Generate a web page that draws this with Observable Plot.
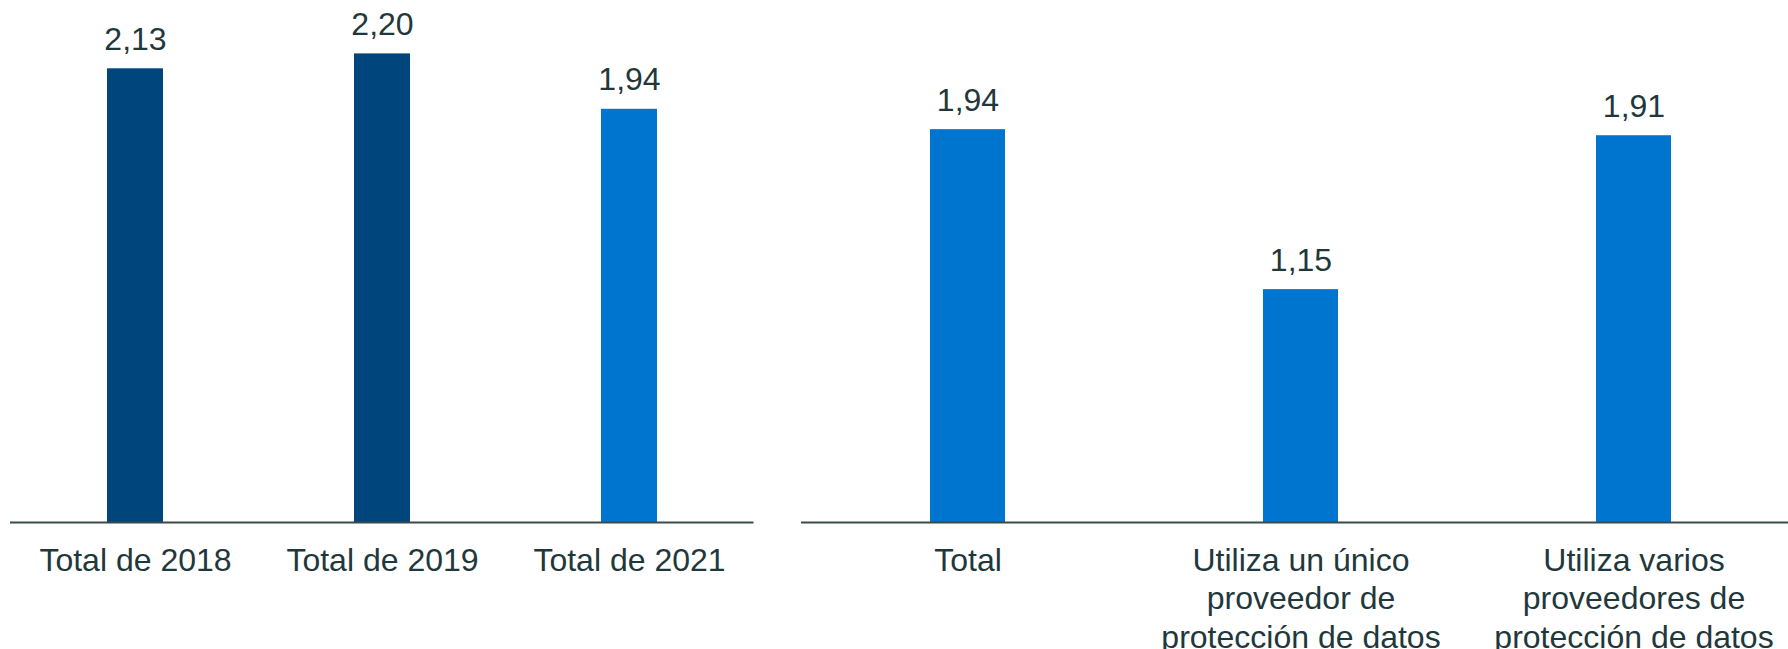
<!DOCTYPE html>
<html>
<head>
<meta charset="utf-8">
<script src="https://cdn.jsdelivr.net/npm/d3@7"></script>
<script src="https://cdn.jsdelivr.net/npm/@observablehq/plot@0.6"></script>
<style>
  html, body { margin: 0; padding: 0; background: #fff; overflow: hidden; }
  #wrap { width: 1788px; height: 649px; overflow: hidden; display: flex; flex-direction: row; align-items: flex-start; }
  #left, #right { flex: none; }
</style>
</head>
<body>
<div id="wrap"><div id="left"></div><div id="right"></div></div>
<script>
// Left panel data
const yearCategories = ["Total de 2018", "Total de 2019", "Total de 2021"];
const yearValues = [2.13, 2.20, 1.94];

// Right panel data
const providerCategories = ["Total", "Utiliza un único\nproveedor de\nprotección de datos", "Utiliza varios\nproveedores de\nprotección de datos"];
const providerValues = [1.94, 1.15, 1.91];

const NAVY = "#00457c";
const BLUE = "#0075cf";
const TEXT = "#1f383c";
const AXIS = "#3a4a4c";
const FONT = "Arial, 'Liberation Sans', sans-serif";

const fmt = v => d3.format(".2f")(v).replace(".", ",");

const leftData = yearCategories.map((c, i) => ({cat: c, value: yearValues[i]}));
const rightData = providerCategories.map((c, i) => ({cat: c, value: providerValues[i]}));

function panel(data, {width, marginLeft, marginRight, yMax, colorRange, labelDy}) {
  return Plot.plot({
    width,
    height: 649,
    marginTop: 0,
    marginBottom: 127,
    marginLeft,
    marginRight,
    style: {fontFamily: FONT, background: "transparent", overflow: "visible"},
    x: {domain: data.map(d => d.cat), paddingInner: 0.774, paddingOuter: 0.387, label: null},
    y: {domain: [0, yMax], axis: null},
    color: {domain: data.map(d => d.cat), range: colorRange},
    marks: [
      Plot.barY(data, {x: "cat", y: "value", fill: "cat"}),
      Plot.ruleY([0], {stroke: AXIS, strokeWidth: 2}),
      Plot.text(data, {x: "cat", y: "value", text: d => fmt(d.value), lineAnchor: "bottom", dy: labelDy,
        fontSize: 32, fill: TEXT}),
      Plot.axisX({tickSize: 0, tickPadding: 21, fontSize: 32, color: TEXT, lineHeight: 1.2, label: null, textOverflow: null})
    ]
  });
}

document.getElementById("left").appendChild(panel(leftData, {
  width: 801, marginLeft: 10, marginRight: 47.5, yMax: 522 / 213,
  colorRange: [NAVY, NAVY, BLUE], labelDy: -19
}));

document.getElementById("right").appendChild(panel(rightData, {
  width: 999, marginLeft: 0, marginRight: 0, yMax: 522 / 202.5,
  colorRange: [BLUE, BLUE, BLUE], labelDy: -19
}));
</script>
</body>
</html>
